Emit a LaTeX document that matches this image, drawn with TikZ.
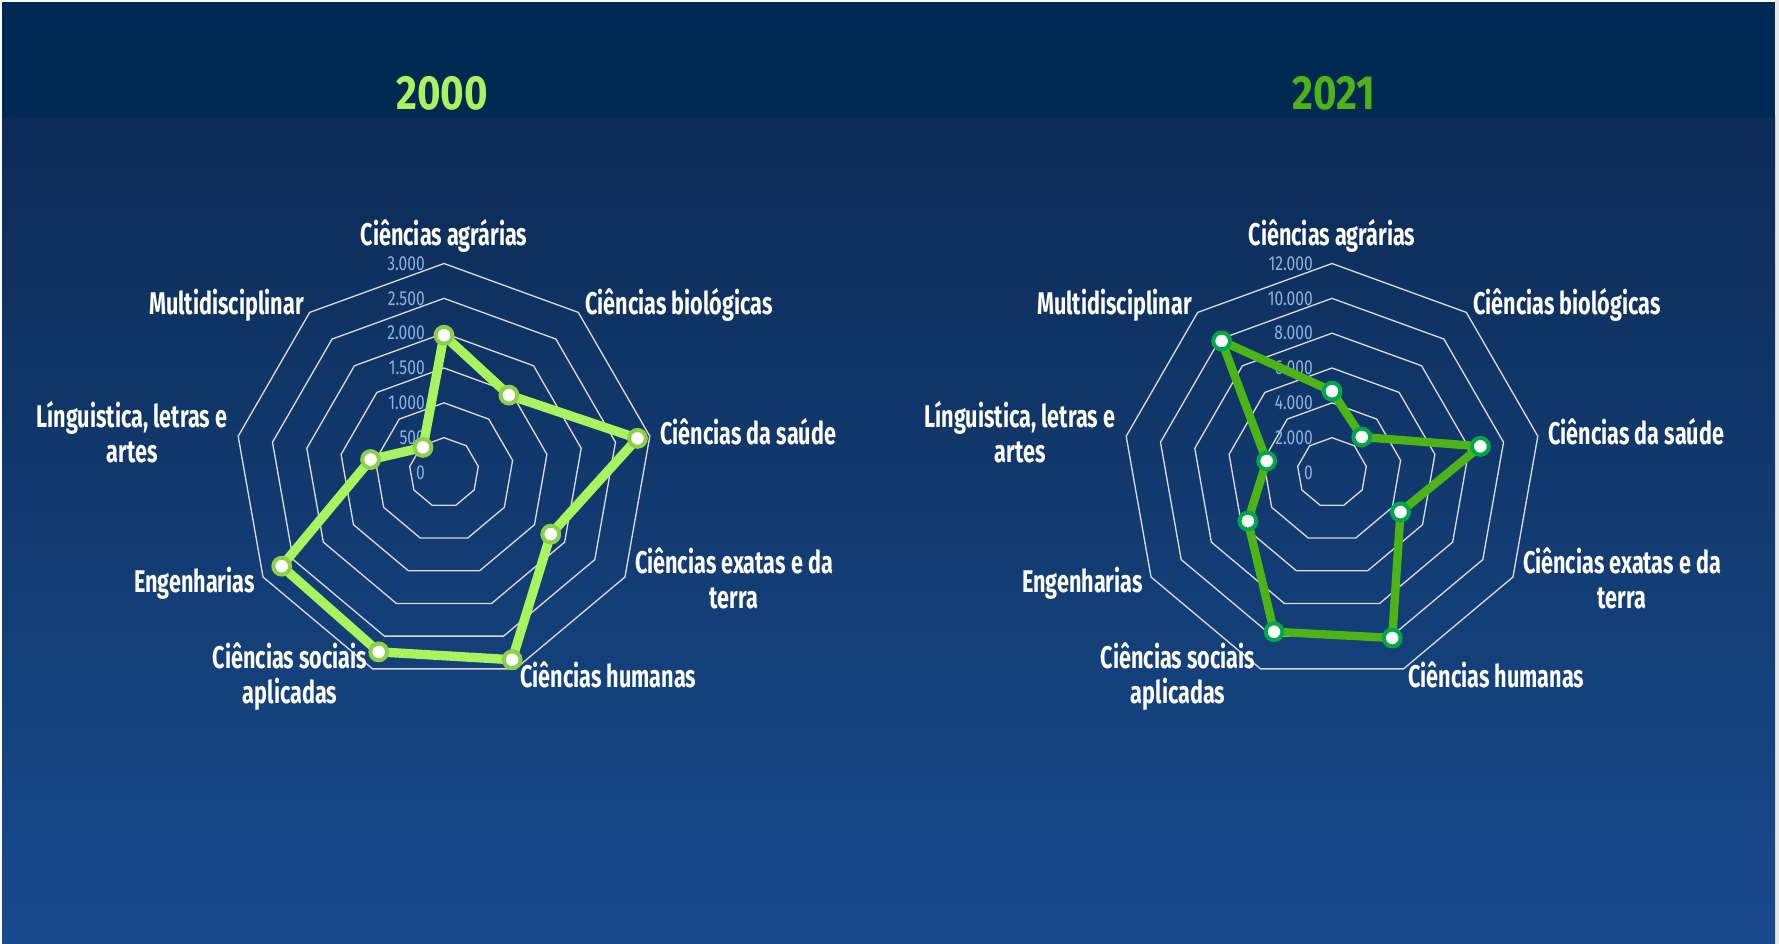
\documentclass[tikz,border=0pt]{standalone}
\usepackage{fontspec}
\setmainfont{Fira Sans}[FakeStretch=0.69]
\newfontfamily\tickfamily{Fira Sans}[FakeStretch=0.77]
\newfontfamily\yearfamily{Fira Sans}[FakeStretch=0.84]
\usepackage{tikz}
\usetikzlibrary{positioning}
\usetikzlibrary{calc}

\definecolor{bandnavy}{RGB}{0,41,82}
\definecolor{bgtop}{RGB}{12,43,86}
\definecolor{bgbottom}{RGB}{24,75,141}
\definecolor{edgegrey}{RGB}{232,232,232}
\definecolor{gridgrey}{RGB}{217,217,217}
\definecolor{tickblue}{RGB}{141,180,226}
\definecolor{limegreen}{RGB}{169,243,94}
\definecolor{limeedge}{RGB}{140,208,72}
\definecolor{grassgreen}{RGB}{76,180,20}
\definecolor{grassedge}{RGB}{0,168,72}

\tikzset{
  axislabel/.style={text=white, font=\bfseries\fontsize{23.5}{26.6}\selectfont, inner sep=0pt, align=center},
  ticklabel/.style={text=tickblue, font=\tickfamily\fontsize{15.2}{15.2}\selectfont, inner sep=0pt, anchor=east},
  yearlabel/.style={font=\yearfamily\bfseries\fontsize{36}{36}\selectfont, inner sep=0pt},
  ring/.style={draw=gridgrey, line width=1pt, line join=miter},
  datadot/.style={circle, fill=white, minimum size=12.6pt, inner sep=0pt, line width=3pt},
}

\begin{document}
\begin{tikzpicture}[x=0.75pt,y=0.75pt,yscale=-1,xscale=1]
  \useasboundingbox (0,0) rectangle (1779,944);
  % background
  \fill[white] (0,0) rectangle (1779,944);
  \fill[edgegrey] (1775,0) rectangle (1779,944);
  \shade[top color=bgtop, bottom color=bgbottom] (2,117) rectangle (1775,944);
  \fill[bandnavy] (2,2) rectangle (1775,117);

  % Text Node
  \node[yearlabel, text=limegreen] (year2000) at (442,93.5) {2000};
  % Text Node
  \node[yearlabel, text=grassgreen] (year2021) at (1334,93.5) {2021};

  %Radar 2000
  \begin{scope}[shift={(444,472.5)}]
    \foreach \k in {1,...,6}
      \draw[ring] (-90:\k*34.83) \foreach \i in {1,...,8} { -- (-90+40*\i:\k*34.83) } -- cycle;
    \foreach \t [count=\k from 0] in {0,500,1.000,1.500,2.000,2.500,3.000}
      \node[ticklabel] (tickA\k) at (-19,-\k*34.83) {\t};
    \foreach \v [count=\i from 0] in {1970,1450,2820,1770,2860,2740,2690,1070,470}
      \coordinate (ptA\i) at (-90+40*\i:\v/3000*209);
    \draw[limegreen, line width=7pt, line join=round] (ptA0) \foreach \i in {1,...,8} { -- (ptA\i) } -- cycle;
    \foreach \i in {0,...,8}
      \node[datadot, draw=limeedge] (dotA\i) at (ptA\i) {};
    % axis labels
    \node[axislabel, anchor=base] (agrA) at (0,-226.5) {Ciências agrárias};
    \node[axislabel, anchor=base west] (bioA) at (141,-157.5) {Ciências biológicas};
    \node[axislabel, anchor=base west] (saudeA) at (216,-27.5) {Ciências da saúde};
    \node[axislabel, anchor=base] (exaA) at (290,136) {Ciências exatas e da\\terra};
    \node[axislabel, anchor=base west] (humA) at (76,214.5) {Ciências humanas};
    \node[axislabel, anchor=base] (socA) at (-154,231) {Ciências sociais\\aplicadas};
    \node[axislabel, anchor=base east] (engA) at (-189,120.5) {Engenharias};
    \node[axislabel, anchor=base] (lingA) at (-312,-10) {Línguistica, letras e\\artes};
    \node[axislabel, anchor=base east] (multiA) at (-140,-157.5) {Multidisciplinar};
  \end{scope}

  %Radar 2021
  \begin{scope}[shift={(1332,472.5)}]
    \foreach \k in {1,...,6}
      \draw[ring] (-90:\k*34.83) \foreach \i in {1,...,8} { -- (-90+40*\i:\k*34.83) } -- cycle;
    \foreach \t [count=\k from 0] in {0,2.000,4.000,6.000,8.000,10.000,12.000}
      \node[ticklabel] (tickB\k) at (-19,-\k*34.83) {\t};
    \foreach \v [count=\i from 0] in {4670,2660,8650,4540,10110,9730,5580,3810,9860}
      \coordinate (ptB\i) at (-90+40*\i:\v/12000*209);
    \draw[grassgreen, line width=6.3pt, line join=round] (ptB0) \foreach \i in {1,...,8} { -- (ptB\i) } -- cycle;
    \foreach \i in {0,...,8}
      \node[datadot, draw=grassedge] (dotB\i) at (ptB\i) {};
    % axis labels
    \node[axislabel, anchor=base] (agrB) at (0,-226.5) {Ciências agrárias};
    \node[axislabel, anchor=base west] (bioB) at (141,-157.5) {Ciências biológicas};
    \node[axislabel, anchor=base west] (saudeB) at (216,-27.5) {Ciências da saúde};
    \node[axislabel, anchor=base] (exaB) at (290,136) {Ciências exatas e da\\terra};
    \node[axislabel, anchor=base west] (humB) at (76,214.5) {Ciências humanas};
    \node[axislabel, anchor=base] (socB) at (-154,231) {Ciências sociais\\aplicadas};
    \node[axislabel, anchor=base east] (engB) at (-189,120.5) {Engenharias};
    \node[axislabel, anchor=base] (lingB) at (-312,-10) {Línguistica, letras e\\artes};
    \node[axislabel, anchor=base east] (multiB) at (-140,-157.5) {Multidisciplinar};
  \end{scope}
\end{tikzpicture}
\end{document}
